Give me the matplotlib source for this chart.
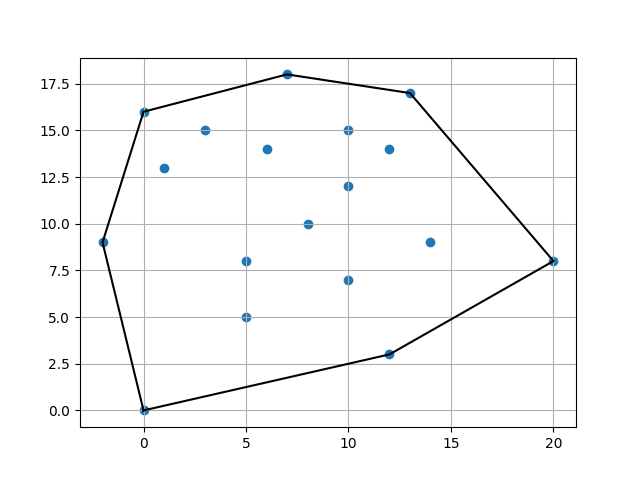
import matplotlib
matplotlib.use("Agg")
import matplotlib.pyplot as plt

xs = [0, 0, 1, 3, 7, 6, 10, 12, 13, 10, 8, 14, 20, 5, 10, 5, 12, -2]
ys = [0, 16, 13, 15, 18, 14, 15, 14, 17, 12, 10, 9, 8, 8, 7, 5, 3, 9]

hull_x = [0, 12, 20, 13, 7, 0, -2, 0]
hull_y = [0, 3, 8, 17, 18, 16, 9, 0]

fig, ax = plt.subplots(figsize=(6.4, 4.8), dpi=100)
ax.scatter(xs, ys)
ax.plot(hull_x, hull_y, color="black")
ax.grid(True)
fig.savefig("out.png")
